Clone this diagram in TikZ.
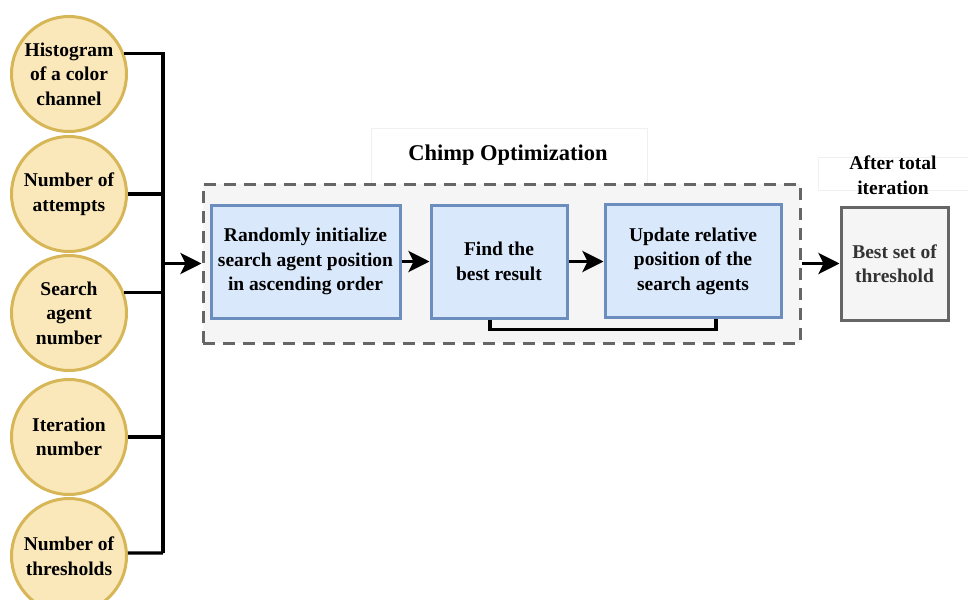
\documentclass[tikz,border=0pt]{standalone}
\usepackage{fontspec}
\setmainfont{Liberation Serif}
\usetikzlibrary{arrows.meta}
\definecolor{inputfill}{HTML}{FAE8BA}
\definecolor{inputline}{HTML}{D6B656}
\definecolor{stepfill}{HTML}{DAE8FC}
\definecolor{stepline}{HTML}{6C8EBF}
\definecolor{groupfill}{HTML}{F5F5F5}
\definecolor{groupline}{HTML}{666666}
\begin{document}
\begin{tikzpicture}[x=1pt,y=-1pt,
  txt/.style={font=\bfseries\fontsize{19.5}{24.5}\selectfont, align=center, inner sep=0pt},
  inputnode/.style={txt, circle, draw=inputline, fill=inputfill, line width=3pt, minimum size=115pt},
  stepbox/.style={txt, rectangle, draw=stepline, fill=stepfill, line width=3pt, minimum height=113pt},
  resultbox/.style={txt, rectangle, draw=groupline, fill=groupfill, line width=3pt, text=black!80, minimum height=113pt, minimum width=107pt},
  wire/.style={line width=3.2pt, black},
  flow/.style={wire, -{Stealth[length=21pt,width=21pt,inset=5pt]}},
  labelframe/.style={draw=black!6, fill=white, line width=0.8pt}
]
\useasboundingbox (0,0) rectangle (968,599);

% input parameters
\node[inputnode] (c1) at (69,74) {Histogram\\of a color\\channel};
\node[inputnode] (c2) at (69,194) {Number of\\attempts};
\node[inputnode] (c3) at (69,313) {Search\\agent\\number};
\node[inputnode] (c4) at (69,437) {Iteration\\number};
\node[inputnode] (c5) at (69,556) {Number of\\thresholds};

% collecting bus
\coordinate (bb) at (163,553);
\coordinate (bj) at (163,263.5);
\draw[wire] (c1.20) -| (bb);
\draw[wire] (c2.east) -- (c2.east -| bb);
\draw[wire] (c3.20) -- (c3.20 -| bb);
\draw[wire] (c4.east) -- (c4.east -| bb);
\draw[wire] (c5.3) -- (bb);

% optimisation group
\draw[labelframe] (371,128) rectangle (647,184);
\node[txt, font=\bfseries\fontsize{22.5}{27}\selectfont] (otitle) at (508,155) {Chimp Optimization};
\node[rectangle, draw=groupline, fill=groupfill, line width=3pt,
      dash pattern=on 12pt off 8pt, minimum width=597pt, minimum height=159pt,
      inner sep=0pt] (opt) at (501.5,263.5) {};

\node[stepbox, minimum width=189pt] (b1) at (305.5,261.5)
  {Randomly initialize\\search agent position\\in ascending order};
\node[stepbox, minimum width=136pt] (b2) at (499,261.5) {Find the\\best result};
\node[stepbox, minimum width=176pt] (b3) at (693,261) {Update relative\\position of the\\search agents};

\draw[flow] (bj) -- (opt.west);
\draw[flow] (b1.east) -- (b2.west);
\draw[flow] (b2.east) -- (b2.east -| b3.west);
\draw[wire] ([xshift=-9pt]b2.south) -- ++(0,10) -| ([xshift=23pt]b3.south);

% result
\draw[labelframe] (818,157) rectangle (968,190);
\node[txt] (rtitle) at (893,175) {After total\\iteration};
\node[resultbox] (fb) at (894.5,263.5) {Best set of\\threshold};
\draw[flow] (opt.east) -- (fb.west);
\end{tikzpicture}
\end{document}
